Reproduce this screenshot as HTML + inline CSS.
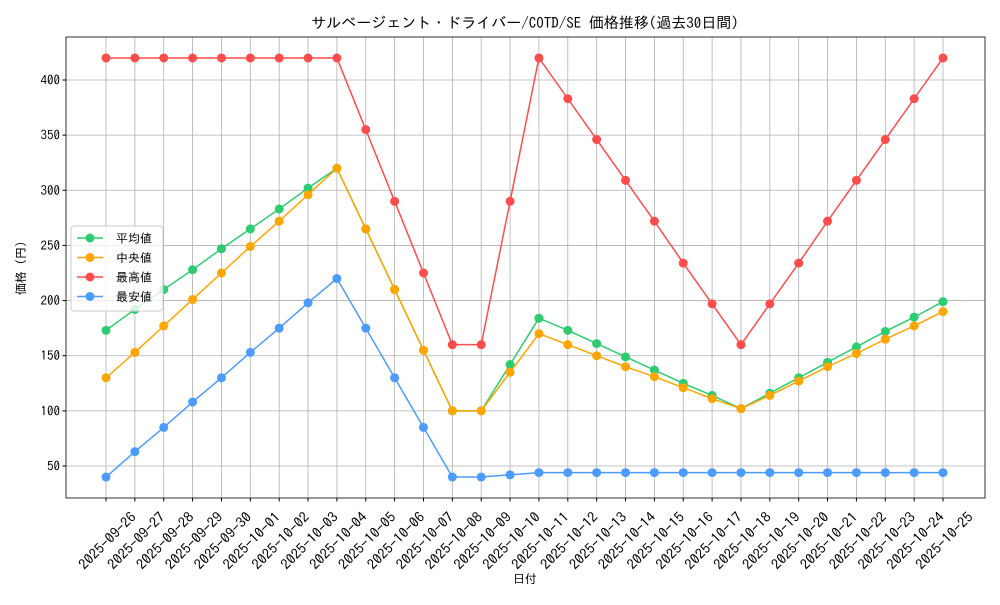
<!DOCTYPE html>
<html><head><meta charset="utf-8"><style>
body{margin:0;background:#fff;}
svg text{font-family:"IPAGothic","Liberation Sans","Noto Sans CJK JP",sans-serif;fill:#000;}
</style></head><body>
<svg id="c" width="1000" height="600"></svg>
<script>
const dates=["2025-09-26","2025-09-27","2025-09-28","2025-09-29","2025-09-30","2025-10-01","2025-10-02","2025-10-03","2025-10-04","2025-10-05","2025-10-06","2025-10-07","2025-10-08","2025-10-09","2025-10-10","2025-10-11","2025-10-12","2025-10-13","2025-10-14","2025-10-15","2025-10-16","2025-10-17","2025-10-18","2025-10-19","2025-10-20","2025-10-21","2025-10-22","2025-10-23","2025-10-24","2025-10-25"];
const meanVals=[173,192,210,228,247,265,283,302,320,265,210,155,100,100,142,184,173,161,149,137,125,114,102,116,130,144,158,172,185,199];
const medianVals=[130,153,177,201,225,249,272,296,320,265,210,155,100,100,135,170,160,150,140,131,121,111,102,114,127,140,152,165,177,190];
const maxVals=[420,420,420,420,420,420,420,420,420,355,290,225,160,160,290,420,383,346,309,272,234,197,160,197,234,272,309,346,383,420];
const minVals=[40,63,85,108,130,153,175,198,220,175,130,85,40,40,42,44,44,44,44,44,44,44,44,44,44,44,44,44,44,44];
const yTicks=[50,100,150,200,250,300,350,400];
const seriesNames=["平均値","中央値","最高値","最安値"];
const colors=["#2ecc71","#ffa500","#ff4c4c","#4c9cff"];

const NS="http://www.w3.org/2000/svg";
const svg=document.getElementById('c');
const L=66,R=985,T=37,B=498;
const x=i=>106+i*(943-106)/(dates.length-1);
const y=v=>466-(v-50)*(466-80)/350;
function mk(tag,attrs,parent){const e=document.createElementNS(NS,tag);for(const k in attrs)e.setAttribute(k,attrs[k]);(parent||svg).appendChild(e);return e;}

dates.forEach((d,i)=>{const g=mk('line',{x1:x(i),x2:x(i),y1:T,y2:B,stroke:'#b0b0b0','stroke-width':0.8});

});
yTicks.forEach(v=>{const g=mk('line',{x1:L,x2:R,y1:y(v),y2:y(v),stroke:'#b0b0b0','stroke-width':0.8});

});

[meanVals,medianVals,maxVals,minVals].forEach((vals,s)=>{
  const g=mk('g',{});
  
  
  mk('polyline',{points:vals.map((v,i)=>x(i)+','+y(v)).join(' '),fill:'none',stroke:colors[s],'stroke-width':1.5},g);
  vals.forEach((v,i)=>{const c=mk('circle',{cx:x(i),cy:y(v),r:4.5,fill:colors[s]},g);
  
  });
});

const fr=mk('rect',{x:L,y:T,width:R-L,height:B-T,fill:'none',stroke:'#000','stroke-width':0.8});



yTicks.forEach(v=>{mk('line',{x1:L-3.5,x2:L,y1:y(v),y2:y(v),stroke:'#000'});
const t=mk('text',{x:L-6,y:y(v)+4.5,'text-anchor':'end','font-size':13});t.textContent=v;

});
dates.forEach((d,i)=>{mk('line',{x1:x(i),x2:x(i),y1:B,y2:B+3.5,stroke:'#000'});
const t=mk('text',{x:-74,y:0,'font-size':14,textLength:74,lengthAdjust:'spacingAndGlyphs',transform:`translate(${x(i)+31},${B+20}) rotate(-45)`});t.textContent=d;

});

let t=mk('text',{x:525,y:28,'text-anchor':'middle','font-size':15});t.textContent='サルベージェント・ドライバー/COTD/SE 価格推移(過去30日間)';


t=mk('text',{x:525,y:583,'text-anchor':'middle','font-size':12});t.textContent='日付';


t=mk('text',{x:0,y:0,'text-anchor':'middle','font-size':12,transform:'translate(25,268) rotate(-90)'});t.textContent='価格 (円)';



const lg=mk('g',{});


mk('rect',{x:71,y:226,width:92,height:85,rx:3,fill:'#fff','fill-opacity':0.8,stroke:'#ccc'},lg);
seriesNames.forEach((n,s)=>{const yy=238+s*19.5;
mk('line',{x1:77,x2:103,y1:yy,y2:yy,stroke:colors[s],'stroke-width':1.5},lg);
mk('circle',{cx:90,cy:yy,r:4.5,fill:colors[s]},lg);
const tt=mk('text',{x:116,y:yy+4.5,'font-size':12},lg);tt.textContent=n;

});
</script>
</body></html>
